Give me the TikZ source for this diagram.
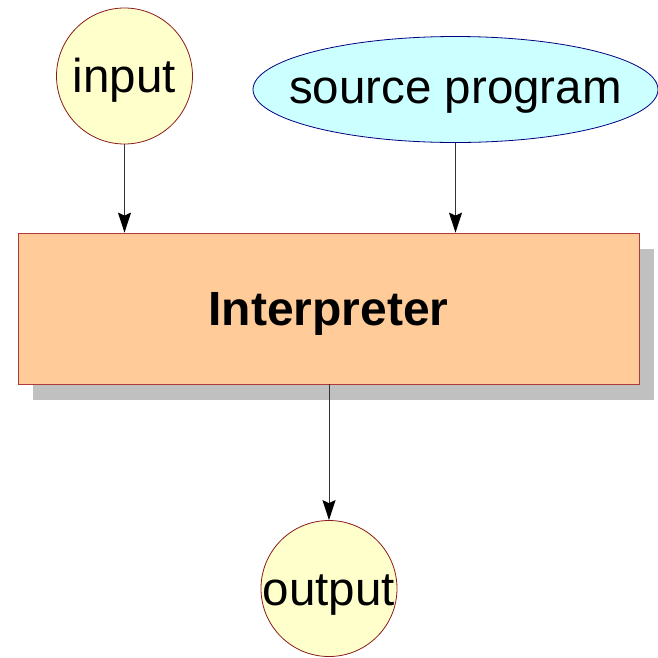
\documentclass[tikz,border=0pt]{standalone}
\usepackage{fontspec}
\setmainfont{Liberation Sans}
\usetikzlibrary{shapes.geometric,arrows.meta,shadows}
\definecolor{circfill}{HTML}{FFFFCC}
\definecolor{circdraw}{HTML}{8B1A1A}
\definecolor{ellfill}{HTML}{CCFFFF}
\definecolor{elldraw}{HTML}{000080}
\definecolor{boxfill}{HTML}{FFCC99}
\definecolor{boxdraw}{HTML}{B03A3A}
\definecolor{shadowgray}{HTML}{C0C0C0}
\definecolor{linegray}{HTML}{333333}
\tikzset{
  bigtext/.style={font=\fontsize{47.5}{52}\selectfont, text height=33pt, text depth=0pt},
  iocircle/.style={circle, draw=circdraw, fill=circfill, line width=0.8pt, minimum size=136pt, inner sep=0pt, bigtext},
  srcell/.style={ellipse, draw=elldraw, fill=ellfill, line width=0.8pt, minimum width=405pt, minimum height=106pt, inner sep=0pt},
  srclabel/.style={font=\fontsize{47.5}{52}\selectfont, text height=27pt, text depth=0pt, inner sep=0pt},
  interp/.style={rectangle, draw=boxdraw, fill=boxfill, line width=0.8pt, minimum width=621pt, minimum height=151pt, inner sep=0pt, font=\fontsize{48}{52}\selectfont\bfseries, text height=33pt, text depth=0pt,
    drop shadow={shadow xshift=15pt, shadow yshift=-16pt, fill=shadowgray, opacity=1}},
  flow/.style={draw=linegray, line width=0.9pt, -{Stealth[length=20pt,width=13pt,inset=3pt,fill=black,color=black]}}
}
\begin{document}
\begin{tikzpicture}[x=1pt,y=-1pt]
\useasboundingbox (0,0) rectangle (658,657);
\node[interp] (box) at (328.5,308.5) {Interpreter};
\node[iocircle] (in) at (124.5,76) {input};
\node[srcell, label={[srclabel]center:source program}] (src) at (455.5,89.5) {};
\node[iocircle] (out) at (329,588.5) {output};
\draw[flow] (in.south) -- (in.south |- box.north);
\draw[flow] (src.south) -- (src.south |- box.north);
\draw[flow] (box.south -| out.north) -- (out.north);
\end{tikzpicture}
\end{document}
